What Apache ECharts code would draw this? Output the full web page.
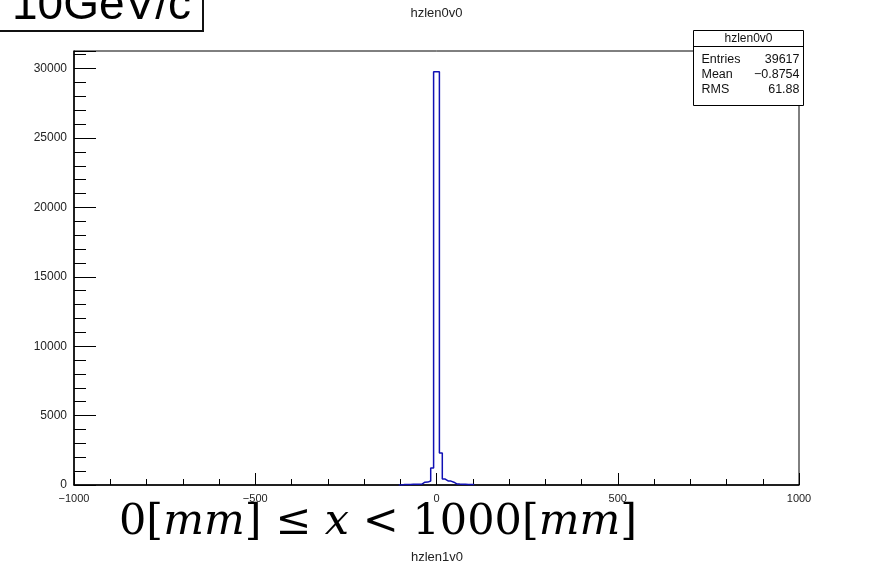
<!DOCTYPE html>
<html><head><meta charset="utf-8">
<script src="https://cdn.jsdelivr.net/npm/echarts@6/dist/echarts.min.js"></script>
<style>html,body{margin:0;padding:0;background:#fff}#c{width:873px;height:572px}</style>
</head><body><div id="c"></div>
<script>
// Histogram bins (lower edges, width 8) and counts
const binLowEdges = [-104,-96,-88,-80,-72,-64,-56,-48,-40,-32,-24,-16,-8,0,8,16,24,32,40,48,56,64,72,80,88,96,104];
const binCounts   = [0,30,40,45,50,55,60,70,200,210,290,1230,29780,29780,2300,430,290,280,200,80,65,55,50,45,40,30,0];
const xTickLabels = ['−1000','−500','0','500','1000'];
const yTickLabels = ['0','5000','10000','15000','20000','25000','30000'];
const chartTitle = 'hzlen0v0';
const xAxisTitle = 'hzlen1v0';
const statsTitle = 'hzlen0v0';
const statsNames = ['Entries','Mean','RMS'];
const statsValues = ['39617','−0.8754','61.88'];
const cornerLabel = '10GeV/c';

const histData = binLowEdges.map((e, i) => [e, binCounts[i]]);

const chart = echarts.init(document.getElementById('c'), null, {renderer: 'canvas'});
const F = 'Liberation Sans, Arial, sans-serif';

const statsGroup = {
  type: 'group', left: 691, top: 30,
  children: [
    {type: 'rect', shape: {x: 0, y: 0, width: 110, height: 75}, style: {fill: '#fff', stroke: '#000', lineWidth: 1}},
    {type: 'line', shape: {x1: 0, y1: 16, x2: 110, y2: 16}, style: {stroke: '#000', lineWidth: 1}},
    {type: 'text', x: 55, y: 8, style: {text: statsTitle, font: '12px ' + F, fill: '#111', align: 'center', verticalAlign: 'middle'}}
  ].concat(statsNames.map((n, i) => ({type: 'text', x: 8, y: 29 + i * 15, style: {text: n, font: '12.5px ' + F, fill: '#111', align: 'left', verticalAlign: 'middle'}})))
   .concat(statsValues.map((v, i) => ({type: 'text', x: 106, y: 29 + i * 15, style: {text: v, font: '12.5px ' + F, fill: '#111', align: 'right', verticalAlign: 'middle'}})))
};

chart.setOption({
  animation: false,
  backgroundColor: '#fff',
  grid: {left: 74, right: 74, top: 51, bottom: 87, show: true, borderColor: '#000', borderWidth: 1, backgroundColor: 'transparent'},
  xAxis: {
    type: 'value', min: -1000, max: 1000, interval: 500,
    axisLine: {show: true, onZero: false, lineStyle: {color: '#000', width: 1.5}},
    axisTick: {show: true, inside: true, length: 12, lineStyle: {color: '#000'}},
    minorTick: {show: true, splitNumber: 5, length: 6, lineStyle: {color: '#000'}},
    axisLabel: {show: true, margin: 8, fontSize: 11, fontFamily: F, color: '#222',
      formatter: v => { const i = [-1000,-500,0,500,1000].indexOf(v); return i >= 0 ? xTickLabels[i] : ''; }},
    splitLine: {show: false}
  },
  yAxis: {
    type: 'value', min: 0, max: 31270, interval: 5000,
    axisLine: {show: true, onZero: false, lineStyle: {color: '#000', width: 1.5}},
    axisTick: {show: true, inside: true, length: 22, lineStyle: {color: '#000'}},
    minorTick: {show: true, splitNumber: 5, length: 12, lineStyle: {color: '#000'}},
    axisLabel: {show: true, margin: 7, fontSize: 12, fontFamily: F, color: '#222',
      formatter: v => { const i = Math.round(v / 5000); return (v % 5000 === 0 && i < yTickLabels.length) ? yTickLabels[i] : ''; }},
    splitLine: {show: false}
  },
  series: [{
    type: 'line', step: 'end', data: histData, symbol: 'none',
    lineStyle: {color: '#1010b4', width: 1.5}, z: 3
  }],
  graphic: [
    {type: 'text', left: 'center', top: 7, style: {text: chartTitle, font: '13px ' + F, fill: '#222'}},
    {type: 'text', x: 437, y: 557, style: {text: xAxisTitle, font: '13px ' + F, fill: '#222', align: 'center', verticalAlign: 'middle'}},
    statsGroup,
    {type: 'rect', shape: {x: -2, y: -10, width: 205, height: 41}, style: {fill: '#fff', stroke: '#111', lineWidth: 2}},
    {type: 'text', x: 12, y: 29, style: {text: cornerLabel, font: '46px Liberation Sans, sans-serif', fill: '#000', align: 'left', verticalAlign: 'bottom'}},
    {type: 'text', x: 378, y: 523, style: {
      text: '{n|0[}{i|mm}{n|] ≤ }{i|x}{n| < 1000[}{i|mm}{n|]}',
      align: 'center', verticalAlign: 'middle',
      rich: {
        n: {font: '43px DejaVu Serif, serif', fill: '#000'},
        i: {font: 'italic 43px DejaVu Serif, serif', fill: '#000'}
      }
    }}
  ]
});
</script>
</body></html>
